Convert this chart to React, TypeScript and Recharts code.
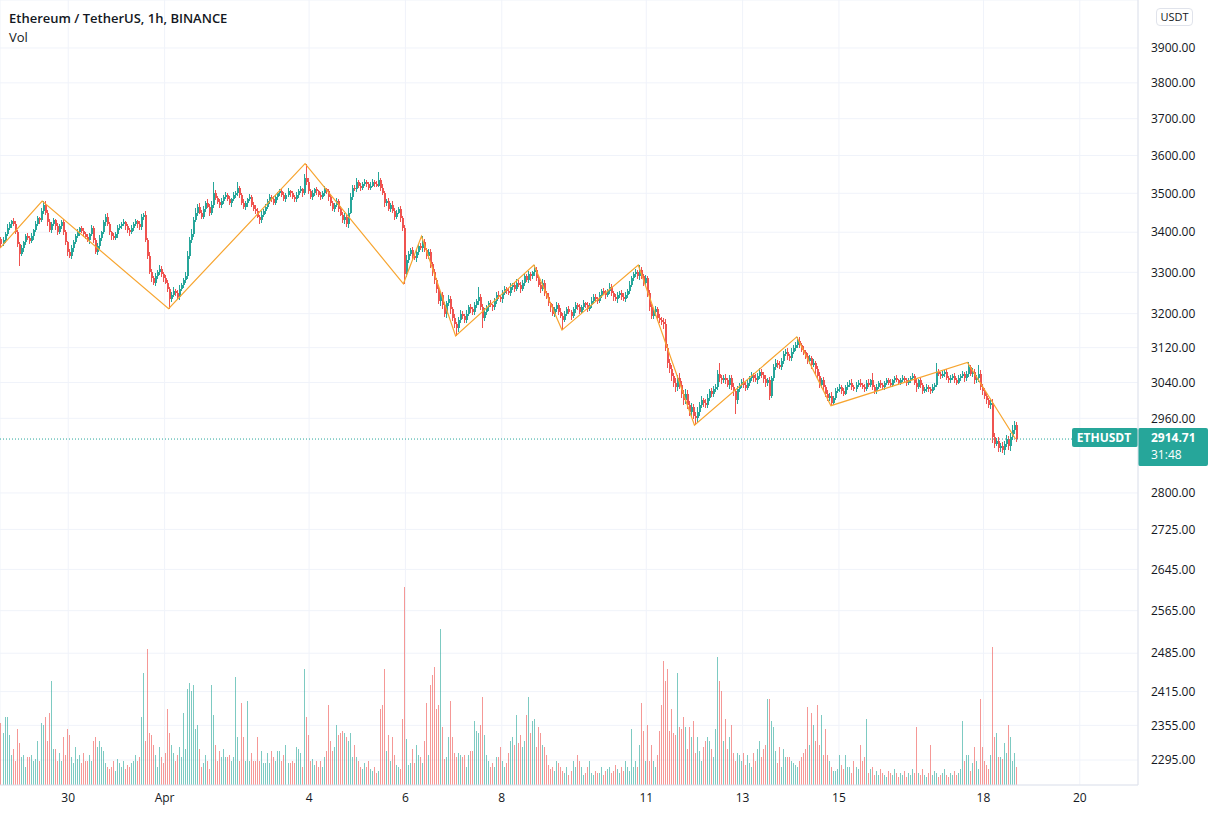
import { ComposedChart, Bar, Line, XAxis, YAxis, CartesianGrid, ReferenceLine } from 'recharts'

const UP = '#26a69a'
const DOWN = '#ef5350'
const ZIGZAG = '#f7a530'
const TEXT = '#131722'
const GRID = '#f0f3fa'
const AXIS = '#e0e3eb'

// first 1h candle, in hours from 30 Mar 00:00
const firstHour = -34
const firstOpen = 3382

// hourly closes
const closes = [
  3370, 3380, 3395, 3410, 3420, 3428, 3420, 3400, 3370, 3345, 3360, 3375, 3390, 3385, 3378, 3390, 3405, 3420, 3435, 3430, 3455, 3470,
  3450, 3425, 3405, 3420, 3430, 3415, 3400, 3415, 3425,
  3400, 3375, 3350, 3340, 3360, 3375,
  3390, 3400, 3410, 3402, 3395, 3388, 3380, 3395, 3410, 3380, 3350, 3365, 3385, 3400,
  3425, 3440, 3420,
  3400, 3390, 3385, 3395, 3410,
  3415, 3420, 3425, 3415, 3405, 3400, 3410, 3420, 3428, 3420, 3412, 3440,
  3445, 3380, 3340,
  3300, 3285, 3275, 3290, 3300, 3308, 3295, 3285, 3275, 3260,
  3235,
  3245, 3255, 3250, 3240, 3260, 3270, 3280, 3290,
  3340, 3380, 3395, 3430, 3450,
  3465, 3450, 3440, 3460, 3475, 3465, 3450, 3470,
  3500, 3488, 3478, 3470, 3480, 3490, 3495, 3485, 3475, 3485, 3495, 3500,
  3515, 3495, 3475, 3465, 3475, 3485, 3490, 3470, 3460, 3455,
  3440, 3430, 3445, 3455, 3465,
  3480, 3490, 3485, 3475, 3490, 3500, 3505, 3495, 3485, 3495, 3505, 3500, 3490, 3485, 3495, 3505, 3510, 3500,
  3540, 3530, 3505, 3490, 3500,
  3510, 3505, 3495, 3490, 3500, 3510, 3505, 3490,
  3475, 3460, 3470, 3480, 3460, 3445, 3430, 3440, 3420,
  3450, 3490, 3515, 3510, 3530,
  3520, 3515, 3525, 3530, 3525, 3515, 3520, 3530, 3525, 3520, 3535, 3515, 3500,
  3475, 3480, 3460,
  3470, 3455, 3440, 3450, 3460, 3435, 3410, 3295, 3330,
  3345, 3355, 3340, 3335, 3350, 3365, 3360, 3375,
  3355, 3340, 3350, 3320, 3300, 3280, 3260, 3230, 3245,
  3220, 3200, 3225, 3235, 3210, 3190, 3175, 3165,
  3185, 3200, 3195, 3185, 3200, 3215, 3210, 3205, 3220, 3230, 3240,
  3215, 3190, 3205,
  3215, 3225, 3220, 3215, 3230, 3245, 3240, 3235, 3250, 3260, 3255, 3250, 3265, 3270, 3260, 3275,
  3270, 3260, 3275, 3290, 3280, 3295, 3290, 3300, 3305,
  3285, 3270, 3260, 3275, 3250, 3240, 3225,
  3215, 3200, 3210, 3220, 3205, 3195, 3185,
  3200, 3210, 3205, 3195, 3210, 3220, 3215, 3205, 3215, 3225, 3220, 3210, 3220,
  3230, 3240, 3235, 3230, 3245, 3255, 3250, 3245, 3255, 3265, 3250,
  3240, 3235, 3245, 3250, 3240, 3235, 3245, 3255,
  3270, 3285, 3295, 3300, 3290, 3305,
  3290, 3275, 3285, 3250,
  3215, 3195, 3205, 3210, 3190, 3185, 3180, 3175,
  3120, 3085, 3070, 3055,
  3040, 3030, 3050, 3035, 3015,
  3000, 3015, 2990, 2975, 2985, 2965, 2960, 2975,
  2990, 3000, 2995, 2990, 3005, 3020, 3015, 3025, 3030,
  3060, 3050, 3045, 3050, 3045, 3035, 3050, 3030, 3020, 3000,
  3025, 3035, 3042, 3035, 3028, 3040, 3050, 3058, 3050, 3045, 3055, 3065, 3058, 3048, 3038, 3045, 3010,
  3050, 3075, 3085, 3080, 3075, 3090, 3105, 3110, 3100, 3095, 3110, 3120, 3125, 3135,
  3125, 3115, 3110, 3100, 3090, 3095, 3080, 3085, 3070, 3055, 3035, 3045, 3030,
  3015, 3005, 3010, 2995, 3005,
  3020, 3025, 3030, 3020, 3015, 3030, 3035, 3040, 3030, 3025, 3035, 3040, 3035, 3030,
  3025, 3040, 3035, 3045, 3030, 3020, 3030, 3040,
  3035, 3030, 3040, 3045, 3040, 3035, 3045, 3050, 3045, 3040, 3045, 3050, 3045, 3040, 3045, 3050, 3055, 3040, 3030, 3045,
  3035, 3020, 3025, 3030, 3025, 3020, 3030, 3035,
  3065, 3060, 3055, 3060, 3065,
  3050, 3045, 3050, 3055, 3045, 3040, 3050, 3055, 3060, 3050, 3060, 3075,
  3060, 3065, 3045, 3050, 3060, 3030, 3020, 3010, 3000, 2990, 2995,
  2920,
  2905, 2910, 2895, 2900, 2890, 2905, 2915, 2900, 2920,
  2935, 2945, 2914.71,
]

const wickUp = [
  6, 8, 5, 10, 7, 4, 7, 9, 6, 5, 8, 4, 6, 9, 5, 7, 4, 8, 6, 5,
  7, 5, 9, 6, 8, 5, 7, 4, 9, 6, 5, 8, 6, 4, 7, 9, 5, 6, 8, 4,
  6, 9, 5, 7, 4, 8, 6, 5, 9, 7, 4, 6, 5, 8, 6, 4, 7, 5, 9, 6,
  5, 8, 4, 7, 6, 9, 5, 6, 4, 8, 7, 5, 9, 6, 10, 7, 5, 8, 6, 9,
  7, 5, 8, 6, 4, 7, 9, 5, 6, 8, 4, 7, 10, 12, 9, 14, 8, 11, 7, 9,
  6, 8, 5, 9, 7, 10, 6, 8, 5, 7, 9, 6, 8, 5, 7, 4, 9, 6, 8, 5,
  7, 9, 6, 4, 8, 5, 7, 9, 6, 5, 8, 4, 7, 6, 9, 5, 8, 6, 4, 7,
  5, 9, 6, 8, 4, 7, 5, 9, 6, 8, 5, 10, 7, 9, 6, 8, 5, 7, 4, 9,
  6, 8, 5, 7, 9, 6, 4, 8, 5, 7, 6, 9, 5, 12, 10, 8, 6, 9, 5, 7,
  4, 8, 6, 5, 9, 7, 4, 6, 8, 5, 9, 7, 6, 8, 5, 9, 6, 7, 4, 8,
  6, 9, 12, 7, 5, 8, 6, 9, 5, 7, 6, 8, 5, 9, 7, 6, 8, 5, 9, 10,
  6, 8, 5, 9, 7, 6, 8, 5, 7, 9, 6, 4, 8, 5, 7, 6, 9, 5, 8, 6,
  7, 9, 5, 6, 8, 4, 7, 6, 9, 5, 8, 6, 4, 7, 9, 5, 6, 8, 5, 7,
  6, 9, 5, 8, 7, 4, 6, 9, 5, 7, 8, 6, 5, 9, 4, 7, 6, 8, 5, 9,
  6, 7, 5, 8, 4, 6, 9, 5, 7, 6, 8, 4, 7, 5, 9, 6, 8, 5, 7, 4,
  6, 8, 5, 9, 7, 4, 6, 8, 5, 7, 9, 6, 5, 8, 7, 6, 9, 5, 8, 7,
  6, 9, 5, 8, 7, 6, 9, 5, 8, 7, 10, 12, 8, 9, 11, 7, 10, 8, 12, 9,
  8, 11, 7, 9, 10, 6, 8, 9, 7, 10, 6, 8, 9, 5, 7, 8, 6, 9, 7, 8,
  6, 9, 5, 8, 7, 10, 6, 8, 5, 7, 9, 6, 8, 5, 7, 4, 9, 6, 8, 5,
  7, 9, 6, 8, 5, 7, 9, 6, 8, 5, 7, 6, 9, 5, 8, 6, 7, 5, 9, 6,
  8, 5, 7, 9, 6, 8, 5, 7, 9, 6, 8, 5, 7, 6, 8, 5, 7, 4, 6, 5,
  7, 4, 6, 5, 8, 4, 6, 5, 7, 4, 6, 5, 7, 4, 6, 5, 7, 4, 6, 5,
  4, 6, 5, 7, 4, 5, 6, 4, 5, 7, 4, 6, 5, 4, 6, 5, 7, 4, 6, 5,
  4, 6, 5, 4, 7, 5, 9, 6, 5, 7, 4, 6, 5, 7, 4, 6, 5, 7, 4, 6,
  5, 7, 6, 5, 8, 6, 7, 5, 9, 6, 8, 7, 6, 9, 7, 8, 6, 9, 7, 8,
  6, 9, 7, 8, 10, 8, 6,
]

const wickDown = [
  7, 5, 8, 6, 4, 9, 6, 5, 8, 7, 5, 9, 6, 4, 7, 5, 8, 6, 4, 7,
  5, 8, 6, 9, 5, 7, 4, 8, 6, 5, 9, 7, 6, 8, 5, 7, 9, 5, 6, 8,
  4, 7, 6, 5, 9, 6, 8, 5, 7, 9, 6, 4, 8, 5, 7, 9, 6, 5, 8, 4,
  7, 5, 9, 6, 8, 4, 7, 5, 9, 6, 5, 8, 6, 7, 5, 9, 6, 8, 5, 7,
  6, 9, 5, 8, 6, 7, 5, 8, 6, 9, 5, 7, 6, 8, 5, 7, 9, 6, 8, 5,
  7, 6, 8, 5, 9, 6, 8, 5, 7, 9, 6, 8, 5, 7, 6, 9, 5, 8, 6, 7,
  5, 8, 6, 9, 5, 7, 6, 8, 5, 9, 7, 6, 8, 5, 7, 9, 6, 5, 8, 6,
  7, 5, 8, 6, 9, 5, 7, 6, 8, 5, 9, 6, 8, 7, 5, 9, 6, 8, 5, 7,
  6, 8, 5, 9, 7, 5, 8, 6, 9, 5, 7, 8, 6, 9, 5, 7, 6, 8, 5, 9,
  6, 5, 8, 6, 7, 5, 9, 6, 5, 8, 6, 9, 7, 5, 8, 6, 9, 7, 5, 8,
  6, 9, 7, 8, 6, 9, 5, 8, 7, 6, 9, 5, 8, 7, 10, 8, 9, 11, 8, 10,
  9, 8, 11, 7, 10, 8, 9, 7, 8, 6, 9, 7, 8, 6, 9, 7, 8, 6, 9, 7,
  8, 6, 9, 7, 5, 8, 6, 9, 5, 7, 8, 6, 9, 5, 7, 6, 8, 5, 7, 9,
  6, 8, 5, 7, 9, 6, 8, 5, 7, 9, 6, 8, 5, 7, 9, 6, 8, 5, 9, 6,
  8, 5, 7, 6, 9, 5, 7, 6, 8, 5, 7, 6, 8, 5, 7, 9, 6, 8, 5, 7,
  6, 8, 5, 7, 6, 9, 5, 8, 6, 7, 5, 8, 6, 9, 5, 7, 6, 8, 9, 7,
  8, 6, 10, 8, 9, 7, 11, 8, 9, 7, 10, 9, 12, 8, 10, 9, 11, 8, 10, 9,
  11, 8, 10, 9, 12, 8, 10, 9, 8, 7, 9, 6, 8, 7, 9, 6, 8, 7, 9, 8,
  7, 9, 6, 8, 7, 9, 6, 8, 5, 7, 6, 8, 5, 7, 6, 8, 5, 9, 6, 8,
  7, 9, 6, 8, 5, 7, 6, 8, 5, 7, 9, 6, 8, 5, 7, 6, 8, 5, 7, 6,
  8, 6, 9, 7, 8, 6, 9, 7, 8, 6, 9, 7, 8, 6, 7, 5, 6, 4, 7, 5,
  6, 4, 7, 5, 6, 4, 7, 5, 6, 4, 7, 5, 6, 4, 7, 5, 6, 4, 7, 5,
  6, 4, 5, 6, 4, 7, 5, 4, 6, 5, 4, 6, 5, 7, 4, 5, 6, 4, 7, 5,
  4, 6, 5, 7, 4, 6, 5, 4, 7, 5, 6, 4, 5, 7, 4, 6, 5, 4, 6, 5,
  7, 5, 8, 6, 7, 9, 6, 8, 7, 9, 6, 8, 7, 9, 8, 10, 7, 9, 8, 6,
  9, 7, 8, 10, 7, 9, 8,
]

// [candle index, price] for the long wicks
const spikeHighs: [number, number][] = [
  [6, 3432], [21, 3480], [52, 3447], [71, 3448], [106, 3530], [118, 3530], [152, 3578], [188, 3555],
  [210, 3390], [238, 3265], [266, 3318], [318, 3318], [358, 3085], [397, 3145], [434, 3062],
  [466, 3085], [482, 3086], [487, 3080], [505, 2955],
]
const spikeLows: [number, number][] = [
  [0, 3360], [9, 3315], [83, 3255], [84, 3212], [201, 3272], [227, 3147], [240, 3165], [280, 3161],
  [346, 2945], [366, 2970], [414, 2988], [456, 3018], [459, 3015], [494, 2905], [499, 2888],
]

// hourly volume (thousand ETH)
const volumes = [
  31, 26, 34,
  34, 25, 15, 18, 12, 28, 21,
  14, 15, 9, 14, 14, 15, 12, 13,
  22, 12, 31, 30, 34, 22, 36, 52, 18,
  18, 12, 16, 12, 24, 15,
  28, 25, 14, 11, 19, 13, 15, 11, 16, 12,
  12, 15, 12, 22, 24, 19, 22, 19, 17, 11, 9, 8,
  9, 12, 7, 13, 11, 9, 12, 8, 10, 9, 11, 12, 15, 12, 14,
  34, 56, 22, 68, 26, 25, 20, 15,
  9, 19, 14, 11, 16, 38, 26, 20, 16, 12, 15, 19, 14, 36, 18,
  48, 51, 47, 50,
  28, 30, 18, 9, 11, 15, 12, 8,
  50,
  35, 20, 12, 17, 14, 18, 14, 14, 15, 12, 14,
  54, 24,
  12, 41, 24, 12, 42, 12, 16, 12,
  12, 24, 12, 17, 11, 11, 16, 11, 17, 14, 12, 17,
  17, 12, 15, 20, 11, 11, 12, 11, 19, 18, 16, 9,
  58, 34, 25, 12, 13, 10, 12, 9, 12, 9,
  14, 17, 40, 22, 17, 19, 30, 25, 26, 27, 26, 24,
  22, 26, 14, 20, 14, 12, 9,
  8, 11, 9, 12, 8, 7, 9, 6, 7,
  38, 40, 58,
  17, 25, 12, 24, 15, 10, 9, 8, 33,
  99, 23,
  10, 11, 18, 11, 20, 15, 14, 11, 22, 41,
  15, 50, 55, 59, 38, 40, 78, 29, 13,
  14, 24, 42, 24, 16, 14, 16, 15, 14, 15, 9, 15, 17,
  17, 32, 27, 26, 30, 44, 25, 15, 12, 9,
  11, 9, 14, 14, 19, 12, 9, 11, 16, 22, 24, 20,
  35, 21, 25, 19, 22, 35, 44, 26, 32, 33, 19, 29, 26, 20, 19,
  15, 10, 8, 9, 7, 12, 11, 9, 7, 6, 9, 5, 7,
  12, 9, 15, 12, 9, 5, 6, 9, 12, 6, 5, 7, 6,
  6, 9, 5, 7, 8, 9, 6, 7, 10, 8, 6, 9, 7, 12, 9,
  7, 28, 9, 12, 9, 20, 41, 27, 12, 30, 12, 20,
  12, 9, 15, 27, 40, 62, 52, 58, 27, 38, 26, 25, 56, 29, 28,
  34, 29, 18, 29, 24, 32, 16, 24, 17,
  12, 19, 22, 24, 22, 18, 14, 28,
  64, 52, 47, 22, 33, 18, 24, 30, 16, 12,
  16, 15, 12, 16, 10, 15, 11, 9, 16, 12, 18, 22, 14, 18, 20,
  43, 43,
  32, 29, 17, 11, 19, 9, 18, 14, 14, 14,
  12, 11, 10, 9, 12, 14, 16,
  18, 39, 20, 36,
  30, 22, 40, 20, 35, 15, 28, 15, 12, 9, 7,
  7, 8, 15, 10, 8, 15, 9, 9, 6, 12, 9, 8, 20, 12, 14,
  33,
  6, 8, 9, 5, 7, 5, 8, 6, 5, 4, 7, 6, 5, 8, 6, 4, 6, 5, 7, 4, 6, 5, 8, 6,
  29,
  6, 5, 8, 5, 4, 6, 20, 5, 7, 6, 4, 5, 6, 8, 5, 4, 6, 5, 7, 5, 6, 8,
  32,
  12, 15, 15, 7, 11, 19, 12, 8,
  43, 19, 12, 10, 8, 15,
  69, 24, 26, 14, 14, 13, 21, 16, 30, 24, 12, 16, 9,
]

// zigzag pivots: [candle index, price]
const zigzag: [number, number][] = [
  [0, 3360], [21, 3480], [84, 3212], [152, 3578], [201, 3272], [210, 3390], [227, 3147], [266, 3318],
  [280, 3161], [318, 3318], [346, 2945], [397, 3145], [414, 2988], [482, 3086], [506, 2914.71],
]

const priceTicks = [3900, 3800, 3700, 3600, 3500, 3400, 3300, 3200, 3120, 3040, 2960, 2800, 2725, 2645, 2565, 2485, 2415, 2355, 2295]
const dayTicks = [0, 48, 120, 168, 216, 288, 336, 384, 456, 504]
const dayLabels = ['30', 'Apr', '4', '6', '8', '11', '13', '15', '18', '20']
const lastPrice = 2914.71
const countdown = '31:48'

const highAt = new Map(spikeHighs)
const lowAt = new Map(spikeLows)
const pivotAt = new Map(zigzag)

const rows = closes.map((close, i) => {
  const open = i === 0 ? firstOpen : closes[i - 1]
  const high = Math.max(highAt.get(i) ?? 0, Math.max(open, close) + (wickUp[i] ?? 5))
  const low = Math.min(lowAt.get(i) ?? Infinity, Math.min(open, close) - (wickDown[i] ?? 5))
  return {
    t: firstHour + i,
    open,
    close,
    high,
    low,
    range: [low, high],
    vol: volumes[i] ?? 0,
    zz: pivotAt.get(i) ?? null,
  }
})

const FONT = '"Open Sans", "Noto Sans", sans-serif'

function Candle(props: any) {
  const { x, y, width, height, payload } = props
  if (!payload || !Number.isFinite(y) || !Number.isFinite(height)) return null
  const { open, close, high, low } = payload
  const color = close >= open ? UP : DOWN
  const cx = Math.round(x + width / 2)
  const y0 = Math.min(y, y + height)
  const h = Math.abs(height)
  // log axis: place open/close between high and low in log space
  const span = Math.log(high) - Math.log(low)
  const py = (v: number) => y0 + (span > 0 ? ((Math.log(high) - Math.log(v)) / span) * h : 0)
  const top = Math.round(py(Math.max(open, close)))
  const bottom = Math.round(py(Math.min(open, close)))
  return (
    <g shapeRendering="crispEdges">
      <rect x={cx} y={Math.round(y0)} width={1} height={Math.max(Math.round(h), 1)} fill={color} />
      <rect x={cx - 0.5} y={top} width={2} height={Math.max(bottom - top, 1)} fill={color} />
    </g>
  )
}

function VolumeBar(props: any) {
  const { x, y, width, height, payload } = props
  if (!payload || !height) return null
  const color = payload.close >= payload.open ? UP : DOWN
  return (
    <rect
      x={Math.round(x + width / 2)}
      y={Math.round(y)}
      width={1}
      height={Math.round(height)}
      fill={color}
      fillOpacity={0.6}
      shapeRendering="crispEdges"
    />
  )
}

function PriceTag(props: any) {
  const vb = props.viewBox
  if (!vb) return null
  const y = Math.round(vb.y)
  const right = vb.x + vb.width
  return (
    <g fontFamily={FONT} fontSize={12} fontWeight={700}>
      <rect x={right - 66} y={y - 11} width={66} height={19} rx={2} fill={UP} />
      <text x={right - 34} y={y + 3} textAnchor="middle" fill="#fff">ETHUSDT</text>
      <rect x={right} y={y - 11} width={70} height={38} rx={2} fill={UP} />
      <text x={right + 13} y={y + 3} fill="#fff">{lastPrice.toFixed(2)}</text>
      <text x={right + 13} y={y + 20} fill="#fff" fontWeight={400}>{countdown}</text>
    </g>
  )
}

export default function App() {
  return (
    <div style={{ position: 'relative', width: 1208, height: 813, background: '#fff', fontFamily: FONT }}>
      <style>{'body{margin:0}'}</style>
      <ComposedChart width={1208} height={813} data={rows} margin={{ top: 0, right: 0, bottom: 0, left: 0 }}>
        <CartesianGrid yAxisId="p" stroke={GRID} />
        <XAxis
          dataKey="t"
          type="number"
          domain={[-34, 533]}
          allowDataOverflow
          ticks={dayTicks}
          interval={0}
          tickFormatter={(v: number) => dayLabels[dayTicks.indexOf(v)] ?? ''}
          height={28}
          axisLine={{ stroke: AXIS }}
          tickLine={false}
          tickMargin={2}
          tick={{ fill: TEXT, fontSize: 12 }}
        />
        <XAxis xAxisId="v" dataKey="t" type="number" domain={[-34, 533]} allowDataOverflow hide />
        <YAxis yAxisId="v" hide domain={[0, 392.5]} allowDataOverflow />
        <YAxis
          yAxisId="p"
          orientation="right"
          scale="log"
          domain={[2252.7, 4041.9]}
          allowDataOverflow
          ticks={priceTicks}
          interval={0}
          width={70}
          axisLine={{ stroke: AXIS }}
          tickLine={false}
          tickMargin={7}
          tickFormatter={(v: number) => v.toFixed(2)}
          tick={{ fill: TEXT, fontSize: 12, textAnchor: 'start' }}
        />
        <ReferenceLine yAxisId="p" y={lastPrice} stroke={UP} strokeDasharray="1 2" label={<PriceTag />} />
        <Bar xAxisId="v" yAxisId="v" dataKey="vol" barSize={1} shape={VolumeBar} isAnimationActive={false} />
        <Bar yAxisId="p" dataKey="range" barSize={1} shape={Candle} isAnimationActive={false} />
        <Line
          yAxisId="p"
          dataKey="zz"
          stroke={ZIGZAG}
          strokeWidth={1.2}
          strokeLinecap="butt"
          dot={false}
          activeDot={false}
          connectNulls
          isAnimationActive={false}
        />
      </ComposedChart>

      <div style={{ position: 'absolute', left: 9, top: 10, fontSize: 13, fontWeight: 600, lineHeight: '16px', color: TEXT }}>
        Ethereum / TetherUS, 1h, BINANCE
      </div>
      <div style={{ position: 'absolute', left: 9, top: 29, fontSize: 13, lineHeight: '16px', color: TEXT }}>Vol</div>
      <div
        style={{
          position: 'absolute',
          left: 1156,
          top: 8,
          width: 37,
          height: 18,
          border: '1px solid ' + AXIS,
          borderRadius: 4,
          boxSizing: 'border-box',
          fontSize: 11,
          lineHeight: '16px',
          textAlign: 'center',
          color: TEXT,
          background: '#fff',
        }}
      >
        USDT
      </div>
    </div>
  )
}
